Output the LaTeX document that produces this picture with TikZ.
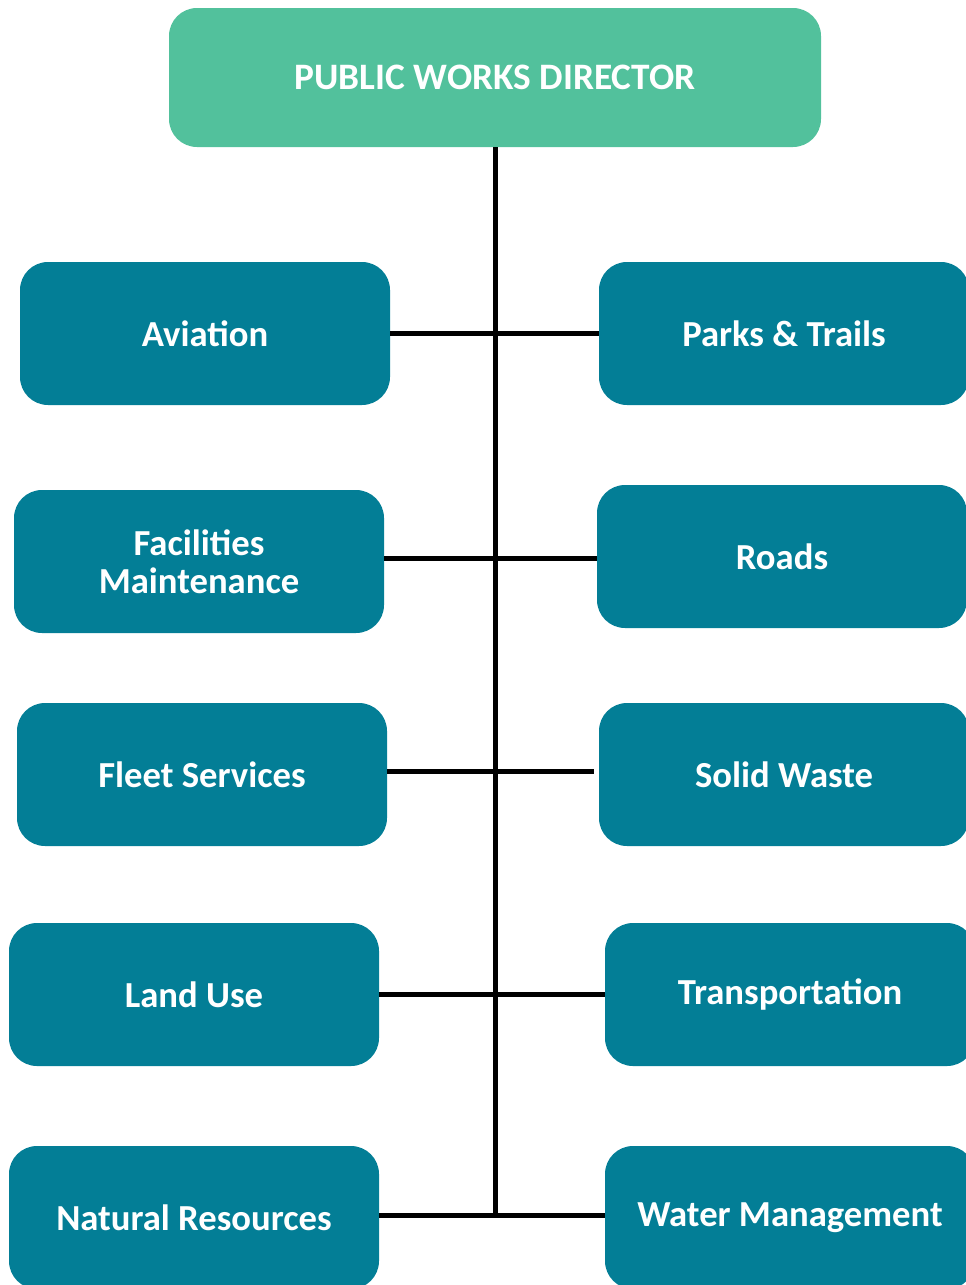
\documentclass[tikz,border=0pt]{standalone}
\usepackage{fontspec}
\setmainfont{Carlito}
\usetikzlibrary{calc}
\definecolor{deptblue}{HTML}{037E96}
\definecolor{headgreen}{HTML}{52C19C}

\begin{document}
\begin{tikzpicture}[x=0.75pt,y=-0.75pt,
  dept/.style={fill=deptblue, rounded corners=21pt, minimum width=277.5pt, minimum height=107.25pt,
    text=white, align=center, font=\bfseries\fontsize{27.5}{28.5}\selectfont},
  head/.style={fill=headgreen, rounded corners=21pt, minimum width=489pt, minimum height=104.25pt,
    text=white, font=\bfseries\fontsize{28}{30}\selectfont},
  link/.style={line width=3.75pt}]
\clip (0,0) rectangle (966,1285);

% Director
\node[head] (director) at (495,77.5) {PUBLIC WORKS DIRECTOR};

% Left column
\node[dept] (aviation) at (205,333.5) {Aviation};
\node[dept] (facilities) at (199,561.5) {Facilities\\Maintenance};
\node[dept] (fleet) at (202,774.5) {Fleet Services};
\node[dept] (landuse) at (194,994.5) {Land Use};
\node[dept] (natural) at (194,1217.5) {Natural Resources};

% Right column
\node[dept] (parks) at (784,333.5) {Parks \& Trails};
\node[dept] (roads) at (782,556.5) {Roads};
\node[dept] (solid) at (784,774.5) {Solid Waste};
\node[dept] (transport) at (790,994.5) {Transportation};
\node[dept] (water) at (790,1217.5) {Water Management};

% Junctions on the spine
\coordinate (j1) at (495,333);
\coordinate (j2) at (495,558);
\coordinate (j3) at (495,771);
\coordinate (j4) at (495,994);
\coordinate (j5) at (495,1215);

% Connectors
\draw[link] (director.south) -- (j5);
\draw[link] (j1 -| aviation.east) -- (j1 -| parks.west);
\draw[link] (j2 -| facilities.east) -- (j2 -| roads.west);
\draw[link] (j3 -| fleet.east) -- ($(j3 -| solid.west)+(-5,0)$);
\draw[link] (j4 -| landuse.east) -- (j4 -| transport.west);
\draw[link] (j5 -| natural.east) -- (j5 -| water.west);
\end{tikzpicture}
\end{document}
